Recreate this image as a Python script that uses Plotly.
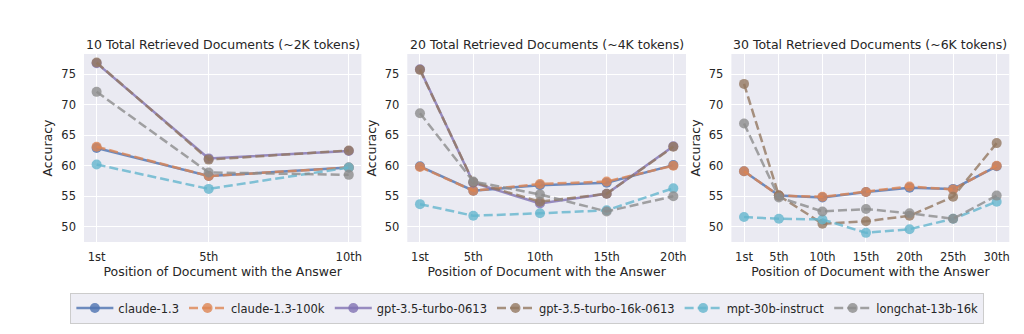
import plotly.graph_objects as go

models = ["claude-1.3", "claude-1.3-100k", "gpt-3.5-turbo-0613",
          "gpt-3.5-turbo-16k-0613", "mpt-30b-instruct", "longchat-13b-16k"]
colors = ["#4C72B0", "#DD8452", "#8172B3", "#937860", "#64B5CD", "#8C8C8C"]
dashes = ["solid", "9px,4px", "solid", "9px,4px", "9px,4px", "9px,4px"]

pos_10 = [1, 5, 10]
pos_20 = [1, 5, 10, 15, 20]
pos_30 = [1, 5, 10, 15, 20, 25, 30]
labels_10 = ["1st", "5th", "10th"]
labels_20 = ["1st", "5th", "10th", "15th", "20th"]
labels_30 = ["1st", "5th", "10th", "15th", "20th", "25th", "30th"]

acc_10 = {
    "claude-1.3": [62.9, 58.3, 59.7],
    "claude-1.3-100k": [63.1, 58.3, 59.7],
    "gpt-3.5-turbo-0613": [76.8, 61.2, 62.4],
    "gpt-3.5-turbo-16k-0613": [76.9, 61.0, 62.5],
    "mpt-30b-instruct": [60.2, 56.2, 59.7],
    "longchat-13b-16k": [72.1, 58.9, 58.5],
}
acc_20 = {
    "claude-1.3": [59.9, 55.9, 56.8, 57.2, 60.1],
    "claude-1.3-100k": [59.8, 55.9, 57.0, 57.4, 60.0],
    "gpt-3.5-turbo-0613": [75.8, 57.2, 53.8, 55.4, 63.2],
    "gpt-3.5-turbo-16k-0613": [75.7, 57.3, 54.1, 55.4, 63.1],
    "mpt-30b-instruct": [53.7, 51.8, 52.2, 52.7, 56.3],
    "longchat-13b-16k": [68.6, 57.4, 55.3, 52.5, 55.0],
}
acc_30 = {
    "claude-1.3": [59.1, 55.1, 54.8, 55.7, 56.4, 56.2, 59.9],
    "claude-1.3-100k": [59.1, 55.1, 54.9, 55.7, 56.6, 56.1, 60.0],
    "gpt-3.5-turbo-16k-0613": [73.4, 55.1, 50.5, 50.9, 51.8, 54.9, 63.7],
    "mpt-30b-instruct": [51.6, 51.3, 51.2, 49.0, 49.6, 51.3, 54.1],
    "longchat-13b-16k": [66.9, 54.8, 52.5, 52.9, 52.2, 51.3, 55.1],
}
titles = ["10 Total Retrieved Documents (~2K tokens)",
          "20 Total Retrieved Documents (~4K tokens)",
          "30 Total Retrieved Documents (~6K tokens)"]

panels = [(pos_10, labels_10, acc_10), (pos_20, labels_20, acc_20), (pos_30, labels_30, acc_30)]
W, H = 1024, 334
xdom_px = [(84, 361.4), (407.3, 686), (731.4, 1009.3)]
ydom = [1 - 242 / H, 1 - 54 / H]

FONT = "DejaVu Sans"
TXT = "#262626"

def rgba(hexc, a):
    h = hexc.lstrip("#")
    return "rgba(%d,%d,%d,%.2f)" % (int(h[0:2], 16), int(h[2:4], 16), int(h[4:6], 16), a)

fig = go.Figure()
shown = set()
for i, (pos, labs, acc) in enumerate(panels):
    xa = "x" if i == 0 else "x%d" % (i + 1)
    ya = "y" if i == 0 else "y%d" % (i + 1)
    for m, c, d in zip(models, colors, dashes):
        if m not in acc:
            continue
        fig.add_trace(go.Scatter(
            x=pos, y=acc[m], mode="lines+markers", name=m,
            xaxis=xa, yaxis=ya, legendgroup=m, showlegend=(m not in shown),
            line=dict(color=rgba(c, 0.8), width=2.5, dash=d),
            marker=dict(color=rgba(c, 0.8), size=10, line=dict(width=0)),
        ))
        shown.add(m)

layout = dict(
    width=W, height=H,
    margin=dict(l=0, r=0, t=0, b=0),
    paper_bgcolor="white", plot_bgcolor="#EAEAF2",
    font=dict(family=FONT, color=TXT, size=11.5),
    legend=dict(orientation="h", x=0.515, xanchor="center", y=1 - 308 / H, yanchor="middle",
                bgcolor="rgba(234,234,242,0.8)", bordercolor="#CCCCCC", borderwidth=1,
                itemwidth=37,
                font=dict(size=11.5, family=FONT, color=TXT), traceorder="normal"),
)
annotations = []
for i, (pos, labs, acc) in enumerate(panels):
    sfx = "" if i == 0 else str(i + 1)
    x0, x1 = xdom_px[i]
    n = pos[-1] - pos[0]
    layout["xaxis" + sfx] = dict(
        domain=[x0 / W, x1 / W], anchor="y" + sfx,
        range=[pos[0] - 0.05 * n, pos[-1] + 0.05 * n],
        tickvals=pos, ticktext=labs, showgrid=True, gridcolor="white", gridwidth=1,
        zeroline=False, showline=False, ticks="", ticklabelstandoff=6,
        tickfont=dict(size=11.5, color=TXT, family=FONT),
        title=dict(text="Position of Document with the Answer", font=dict(size=12.5, color=TXT, family=FONT), standoff=2),
    )
    layout["yaxis" + sfx] = dict(
        domain=ydom, anchor="x" + sfx, range=[47.5, 78.3],
        tickvals=[50, 55, 60, 65, 70, 75], showgrid=True, gridcolor="white", gridwidth=1,
        zeroline=False, showline=False, ticks="", ticklabelstandoff=7,
        tickfont=dict(size=11.5, color=TXT, family=FONT),
        title=dict(text="Accuracy", font=dict(size=12.5, color=TXT, family=FONT), standoff=5),
    )
    annotations.append(dict(text=titles[i], x=(x0 + x1) / 2 / W, y=1 - 44 / H, xref="paper", yref="paper",
                            xanchor="center", yanchor="middle", showarrow=False,
                            font=dict(size=12.5, color=TXT, family=FONT)))
layout["annotations"] = annotations
fig.update_layout(**layout)
fig.write_html("out.html")
